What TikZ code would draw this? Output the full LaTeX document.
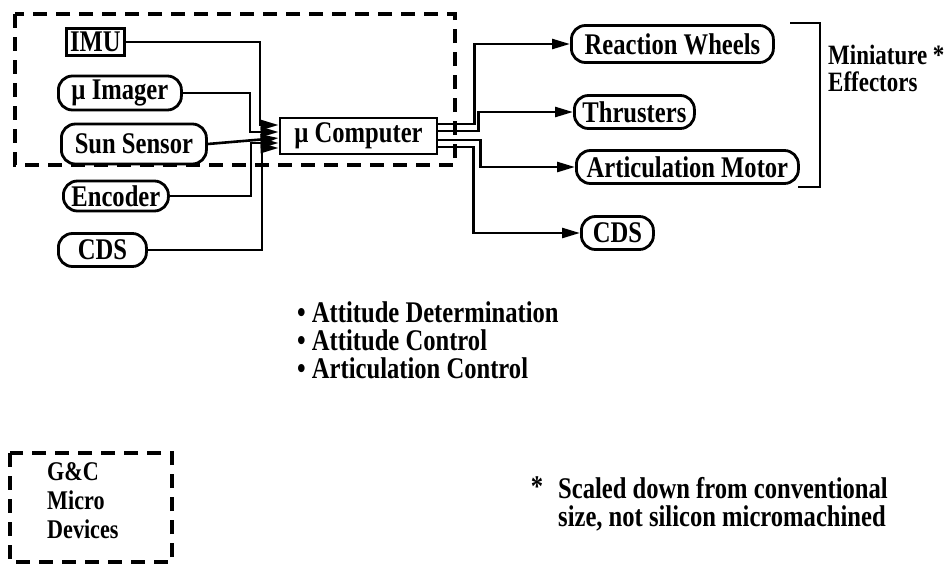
\documentclass[tikz,border=0pt]{standalone}
\usepackage{fontspec}
\setmainfont{Liberation Serif}[FakeStretch=0.82]
\usetikzlibrary{arrows.meta}
\tikzset{
  dev/.style={draw,line width=2.8pt,rounded corners=14pt,inner sep=0pt,minimum height=33pt,
    font=\bfseries\fontsize{30}{30}\selectfont},
  blk/.style={dev,rounded corners=0pt},
  wire/.style={draw,line width=2.6pt},
  feed/.style={wire,-{Triangle[length=18pt,width=10pt]}},
  fence/.style={draw,line width=3.4pt,dash pattern=on 14pt off 9pt},
  txt/.style={inner sep=0pt,align=left,font=\bfseries\fontsize{30}{28}\selectfont},
}

\begin{document}
\begin{tikzpicture}[x=1pt,y=-1pt]
\useasboundingbox (0,0) rectangle (951,565);
% G&C micro devices group
\draw[fence] (15,14) rectangle (455,165);
% sensors
\node[blk,minimum width=58pt,minimum height=27pt,anchor=west] (imu) at (65,42) {IMU};
\node[dev,minimum width=123pt,minimum height=34pt,anchor=west] (imager) at (57,93) {µ Imager};
\node[dev,minimum width=145pt,minimum height=40pt,anchor=west] (sun) at (60,144) {Sun Sensor};
\node[dev,minimum width=105pt,minimum height=30pt,anchor=west] (enc) at (62,196) {Encoder};
\node[dev,minimum width=88pt,anchor=west] (cdsin) at (57,250) {CDS};
% processor
\node[blk,minimum width=157pt,minimum height=36pt] (comp) at (358.5,136) {µ Computer};
% effectors
\node[dev,minimum width=202pt,minimum height=37pt,anchor=west] (rw) at (570,44) {Reaction Wheels};
\node[dev,minimum width=120pt,anchor=west] (thr) at (573,112) {Thrusters};
\node[dev,minimum width=222pt,anchor=west] (am) at (575,167) {Articulation Motor};
\node[dev,minimum width=72pt,anchor=west] (cdsout) at (580,233) {CDS};
% inputs
\draw[feed] (imu.east) -- ++(134,0) |- ([yshift=11pt]comp.west);
\draw[feed] (imager.east) -- ++(67,0) |- ([yshift=4pt]comp.west);
\draw[feed] (sun.east) -- ([yshift=-2pt]comp.west);
\draw[feed] (enc.east) -- ++(81,0) |- ([yshift=-7pt]comp.west);
\draw[feed] (cdsin.east) -- ++(114,0) |- ([yshift=-12pt]comp.west);
% outputs
\draw[feed] ([yshift=12pt]comp.east) -- ++(36,0) |- (rw.west);
\draw[feed] ([yshift=5pt]comp.east) -- ++(40,0) |- (thr.west);
\draw[feed] ([yshift=-4pt]comp.east) -- ++(42,0) |- (am.west);
\draw[feed] ([yshift=-11pt]comp.east) -- ++(35,0) |- (cdsout.west);
% effector bracket
\draw[wire] (790,23) -| (820,187) -- (798,187);
\node[txt,font=\bfseries\fontsize{28}{27}\selectfont,anchor=west] (mini) at (828,68) {Miniature *\\Effectors};
% functions
\node[txt,anchor=west] (tasks) at (297,340) {\textbullet{} Attitude Determination\\\textbullet{} Attitude Control\\\textbullet{} Articulation Control};
% legend
\draw[fence] (10,453) rectangle (172,562);
\node[txt,font=\bfseries\fontsize{27}{29}\selectfont,anchor=west] (key) at (47,501) {G\&C\\Micro\\Devices};
% footnote
\node[txt,anchor=west] (note) at (558,504) {Scaled down from conventional\\size, not silicon micromachined};
\node[txt,anchor=center] (star) at (537,487) {*};
\end{tikzpicture}
\end{document}
